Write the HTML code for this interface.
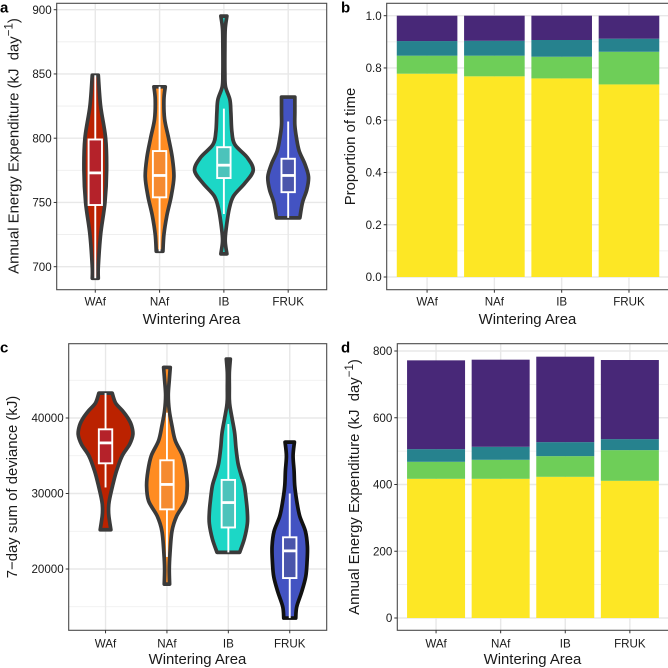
<!DOCTYPE html>
<html>
<head>
<meta charset="utf-8">
<title>Energy expenditure by wintering area</title>
<style>
html,body{margin:0;padding:0;background:#fff;width:668px;height:668px;overflow:hidden}
svg{display:block;filter:blur(0.35px)}
text{font-family:"Liberation Sans",sans-serif;fill:#1a1a1a;white-space:pre}
</style>
</head>
<body>
<svg id="fig" xmlns="http://www.w3.org/2000/svg" width="668" height="668" viewBox="0 0 668 668"></svg>
<script>
const categories = ['WAf', 'NAf', 'IB', 'FRUK'];
const fills = ['#bb2200', '#ff8c22', '#1cd7c6', '#4353c2'];
const boxFills = ['#b5222a', '#f58a30', '#4cc3bb', '#4a55ab'];
const outlines = ['#3a3a3a', '#3a3a3a', '#3a3a3a', '#3a3a3a'];
const outlinesC = ['#3a3a3a', '#3a3a3a', '#3a3a3a', '#111111'];
const stackColors = ['#fde725', '#6ece58', '#26828e', '#482878'];
const stackNames = ['yellow', 'green', 'teal', 'purple'];

const aTicks = [700, 750, 800, 850, 900];
const aMinor = [725, 775, 825, 875];
const bTicks = [0, 0.2, 0.4, 0.6, 0.8, 1];
const bTickLabels = ['0.0', '0.2', '0.4', '0.6', '0.8', '1.0'];
const bMinor = [0.1, 0.3, 0.5, 0.7, 0.9];
const cTicks = [20000, 30000, 40000];
const cMinor = [15000, 25000, 35000, 45000];
const dTicks = [0, 200, 400, 600, 800];
const dMinor = [100, 300, 500, 700];

/* Violin a: value along the axis and density at that value */
const aWAfValues = [849, 825, 800, 775, 750, 725, 700, 691];
const aWAfDensity = [9, 16, 31, 34, 29, 16, 9, 9];
const aNAfValues = [840, 830, 815, 800, 785, 770, 755, 740, 725, 712];
const aNAfDensity = [17, 13, 15, 27, 38, 43, 35, 22, 13, 10];
const aIBValues = [895, 885, 870, 850, 840, 830, 820, 805, 795, 785, 775, 765, 755, 745, 730, 720, 710];
const aIBDensity = [9, 4, 3, 3, 5, 18, 21, 24, 33, 70, 88, 63, 29, 16, 7, 4, 9];
const aFRUKValues = [832, 820, 810, 800, 790, 780, 770, 760, 750, 738];
const aFRUKDensity = [20, 20, 20, 25, 33, 50, 61, 56, 43, 35];
const aQ1 = [748, 754, 769, 758];
const aMedian = [773, 771, 779, 771];
const aQ3 = [799, 790, 793, 784];
const aWhiskerLow = [691, 712, 741, 738];
const aWhiskerHigh = [849, 840, 823, 813];

/* Violin c */
const cWAfValues = [43300, 42000, 41000, 40000, 39000, 37800, 36500, 35000, 33000, 31000, 29000, 28000, 27000, 25200];
const cWAfDensity = [20, 30, 50, 67, 78, 82, 72, 50, 33, 21, 11, 9, 10, 16];
const cNAfValues = [46700, 45000, 43000, 41000, 39000, 37000, 35000, 33000, 31000, 29000, 27000, 25000, 22000, 20000, 18000];
const cNAfDensity = [10, 7, 4, 7, 15, 25, 47, 57, 61, 55, 29, 15, 9, 7, 8];
const cIBValues = [47800, 46000, 44000, 42500, 41500, 40000, 38000, 36000, 34000, 32500, 31000, 29000, 27500, 26000, 24000, 22200];
const cIBDensity = [6, 3, 3, 3, 5, 11, 19, 23, 29, 38, 48, 54, 57, 57, 48, 34];
const cFRUKValues = [36800, 35000, 33000, 31000, 29000, 27000, 25000, 23000, 21000, 19000, 17000, 15000, 13500];
const cFRUKDensity = [14, 10, 13, 15, 21, 30, 47, 53, 52, 48, 36, 21, 18];
const cQ1 = [34000, 27900, 25500, 18800];
const cMedian = [36700, 31200, 28800, 22400];
const cQ3 = [38500, 34400, 31800, 24200];
const cWhiskerLow = [30800, 21600, 22200, 13500];
const cWhiskerHigh = [43300, 40700, 39200, 30000];

/* Stacked bars b: proportions, bottom to top */
const bYellow = [0.778, 0.768, 0.760, 0.737];
const bGreen = [0.069, 0.079, 0.083, 0.125];
const bTeal = [0.056, 0.057, 0.064, 0.050];
const bPurple = [0.097, 0.096, 0.093, 0.088];

/* Stacked bars d: kJ per day, bottom to top */
const dYellow = [417, 417, 423, 411];
const dGreen = [51, 57, 62, 92];
const dTeal = [38, 39, 42, 33];
const dPurple = [266, 261, 256, 237];

const NS = 'http://www.w3.org/2000/svg';
const fig = document.getElementById('fig');

function make(parent, tag, attrs) {
  const el = document.createElementNS(NS, tag);
  for (const k in attrs) el.setAttribute(k, attrs[k]);
  parent.appendChild(el);
  return el;
}
function linear(v0, p0, v1, p1) {
  return v => p0 + (v - v0) * (p1 - p0) / (v1 - v0);
}
function band(left, step) {
  return i => left + (i + 0.6) * step;
}

function drawFrame(prefix, p, y, ticks, labels, minor, x) {
  const g = make(fig, 'g', {});
  
  
  minor.forEach(v => {
    const l = make(g, 'line', {x1: p.l, x2: p.r, y1: y(v), y2: y(v), stroke: '#ededed', 'stroke-width': 0.8});
    
    
  });
  ticks.forEach(v => {
    const l = make(g, 'line', {x1: p.l, x2: p.r, y1: y(v), y2: y(v), stroke: '#e8e8e8', 'stroke-width': 1.4});
    
    
  });
  categories.forEach((c, i) => {
    const l = make(g, 'line', {x1: x(i), x2: x(i), y1: p.t, y2: p.b, stroke: '#e8e8e8', 'stroke-width': 1.4});
    
    
  });
}

function drawAxes(prefix, p, y, ticks, labels, x, tickBase, titleBase, titleX) {
  const border = make(fig, 'rect', {x: p.l, y: p.t, width: p.r - p.l, height: p.b - p.t, fill: 'none', stroke: '#4a4a4a', 'stroke-width': 1.1});
  
  
  ticks.forEach((v, i) => {
    const t = make(fig, 'line', {x1: p.l - 3, x2: p.l, y1: y(v), y2: y(v), stroke: '#333', 'stroke-width': 1});
    
    
    const s = make(fig, 'text', {x: p.l - 5, y: y(v) + 4.1, 'text-anchor': 'end', 'font-size': 11.6});
    
    
    s.textContent = labels ? labels[i] : String(v);
  });
  categories.forEach((c, i) => {
    const t = make(fig, 'line', {x1: x(i), x2: x(i), y1: p.b, y2: p.b + 3, stroke: '#333', 'stroke-width': 1});
    
    
    const s = make(fig, 'text', {x: x(i), y: tickBase, 'text-anchor': 'middle', 'font-size': 11.6});
    
    
    s.textContent = c;
  });
  const title = make(fig, 'text', {x: titleX, y: titleBase, 'text-anchor': 'middle', 'font-size': 14.9});
  
  
  title.textContent = 'Wintering Area';
}

function yTitle(prefix, x, y, withUnit, str) {
  const t = make(fig, 'text', {transform: 'translate(' + x + ',' + y + ') rotate(-90)', 'text-anchor': 'middle', 'font-size': 14.9});
  
  
  if (withUnit) {
    make(t, 'tspan', {}).textContent = 'Annual Energy Expenditure (kJ  day';
    make(t, 'tspan', {dy: -6, 'font-size': 11.5}).textContent = '\u22121';
    make(t, 'tspan', {dy: 6}).textContent = ')';
  } else {
    t.textContent = str;
  }
}

function panelLetter(letter, x, y) {
  const t = make(fig, 'text', {x: x, y: y, 'font-size': 15, 'font-weight': 'bold'});
  
  
  t.style.fill = '#000';
  t.textContent = letter;
}

/* smooth one side of a violin through its points */
function sidePath(pts) {
  let d = '';
  for (let i = 0; i < pts.length - 1; i++) {
    const p0 = pts[Math.max(i - 1, 0)], p1 = pts[i], p2 = pts[i + 1], p3 = pts[Math.min(i + 2, pts.length - 1)];
    const c1x = p1[0] + (p2[0] - p0[0]) / 6, c1y = p1[1] + (p2[1] - p0[1]) / 6;
    const c2x = p2[0] - (p3[0] - p1[0]) / 6, c2y = p2[1] - (p3[1] - p1[1]) / 6;
    d += 'C' + c1x.toFixed(2) + ' ' + c1y.toFixed(2) + ' ' + c2x.toFixed(2) + ' ' + c2y.toFixed(2) + ' ' + p2[0].toFixed(2) + ' ' + p2[1].toFixed(2);
  }
  return d;
}

function drawViolin(prefix, i, cx, y, values, density, widthScale, outline, q1, med, q3, lo, hi) {
  const g = make(fig, 'g', {});
  
  
  const right = values.map((v, k) => [cx + density[k] * widthScale, y(v)]);
  const left = values.map((v, k) => [cx - density[k] * widthScale, y(v)]).reverse();
  const d = 'M' + right[0][0] + ' ' + right[0][1] + sidePath(right) + 'L' + left[0][0] + ' ' + left[0][1] + sidePath(left) + 'Z';
  make(g, 'path', {d: d, fill: fills[i], stroke: outline, 'stroke-width': 3.7, 'stroke-linejoin': 'round'});
  const hw = 6.7;
  make(g, 'line', {x1: cx, x2: cx, y1: y(hi), y2: y(q3), stroke: '#fff', 'stroke-width': 1.9});
  make(g, 'line', {x1: cx, x2: cx, y1: y(q1), y2: y(lo), stroke: '#fff', 'stroke-width': 1.9});
  make(g, 'rect', {x: cx - hw, y: y(q3), width: 2 * hw, height: y(q1) - y(q3), fill: boxFills[i], stroke: '#fff', 'stroke-width': 1.9});
  make(g, 'line', {x1: cx - hw, x2: cx + hw, y1: y(med), y2: y(med), stroke: '#fff', 'stroke-width': 2.8});
}

function drawStacks(prefix, x, y, barW, layers) {
  categories.forEach((c, i) => {
    const g = make(fig, 'g', {});
    
    
    let base = 0;
    layers.forEach((layer, k) => {
      const top = base + layer[i];
      const r = make(g, 'rect', {x: x(i) - barW / 2, y: y(top), width: barW, height: y(base) - y(top), fill: stackColors[k]});
      
      
      base = top;
    });
  });
}

/* Panel a */
const pa = {l: 56.7, r: 326.7, t: 3.3, b: 289.7};
const ya = linear(700, 266.7, 900, 9.7);
const xa = band(pa.l, 64.3);
drawFrame('panel-a', pa, ya, aTicks, null, aMinor, xa);
const aVals = [aWAfValues, aNAfValues, aIBValues, aFRUKValues];
const aDens = [aWAfDensity, aNAfDensity, aIBDensity, aFRUKDensity];
categories.forEach((c, i) => drawViolin('panel-a', i, xa(i), ya, aVals[i], aDens[i], 1 / 3, outlines[i], aQ1[i], aMedian[i], aQ3[i], aWhiskerLow[i], aWhiskerHigh[i]));
drawAxes('panel-a', pa, ya, aTicks, null, xa, 305.7, 324, 191.5);
yTitle('panel-a', 18.5, 146, true);
panelLetter('a', 0, 12.5);

/* Panel b */
const pb = {l: 386.7, r: 669.5, t: 3.3, b: 289.7};
const yb = linear(0, 277, 1, 15.7);
const xb = band(pb.l, 67.3);
drawFrame('panel-b', pb, yb, bTicks, bTickLabels, bMinor, xb);
drawStacks('panel-b', xb, yb, 60.6, [bYellow, bGreen, bTeal, bPurple]);
drawAxes('panel-b', pb, yb, bTicks, bTickLabels, xb, 305.7, 324, 527.5);
yTitle('panel-b', 355, 146.5, false, 'Proportion of time');
panelLetter('b', 341, 12.7);

/* Panel c */
const pc = {l: 68.7, r: 326.7, t: 343.7, b: 630.3};
const yc = linear(20000, 569, 40000, 418);
const xc = band(pc.l, 61.4);
drawFrame('panel-c', pc, yc, cTicks, null, cMinor, xc);
const cVals = [cWAfValues, cNAfValues, cIBValues, cFRUKValues];
const cDens = [cWAfDensity, cNAfDensity, cIBDensity, cFRUKDensity];
categories.forEach((c, i) => drawViolin('panel-c', i, xc(i), yc, cVals[i], cDens[i], 1 / 3, outlinesC[i], cQ1[i], cMedian[i], cQ3[i], cWhiskerLow[i], cWhiskerHigh[i]));
drawAxes('panel-c', pc, yc, cTicks, null, xc, 647.5, 664, 197.5);
yTitle('panel-c', 17, 487, false, '7\u2212day sum of deviance (kJ)');
panelLetter('c', 0, 352.5);

/* Panel d */
const pd = {l: 397.3, r: 669.5, t: 343.7, b: 630.3};
const yd = linear(0, 618, 800, 351);
const xd = band(pd.l, 64.6);
drawFrame('panel-d', pd, yd, dTicks, null, dMinor, xd);
drawStacks('panel-d', xd, yd, 58, [dYellow, dGreen, dTeal, dPurple]);
drawAxes('panel-d', pd, yd, dTicks, null, xd, 647.5, 664, 532.5);
yTitle('panel-d', 359, 487, true);
panelLetter('d', 341, 352.5);
</script>
</body>
</html>
